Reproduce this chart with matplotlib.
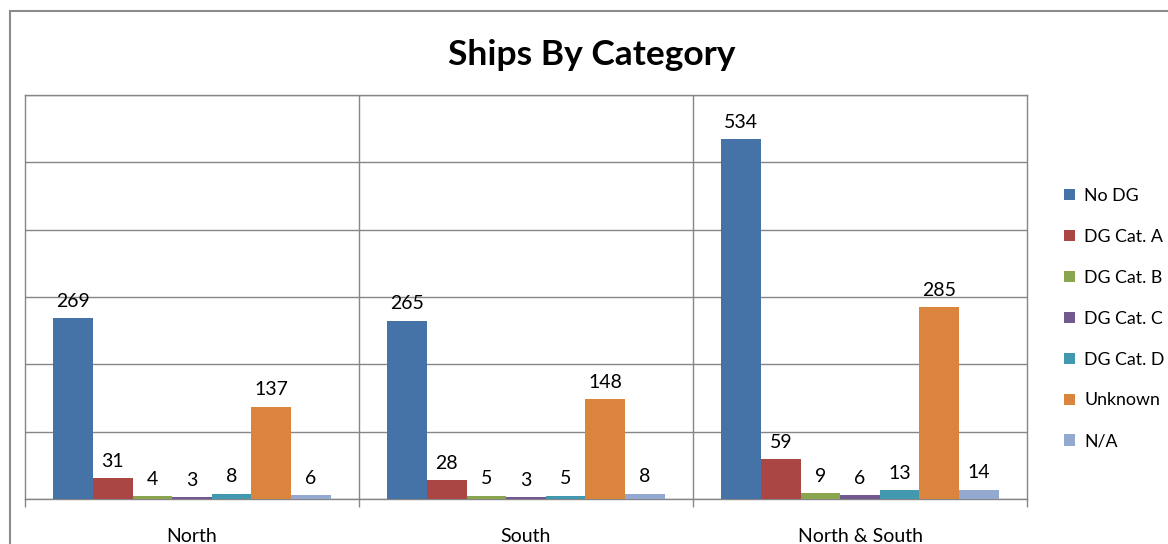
import numpy as np
import matplotlib
matplotlib.use("Agg")
import matplotlib.pyplot as plt
from matplotlib.patches import Rectangle

plt.rcParams['font.family'] = ['Lato', 'DejaVu Sans']

regions = ["North", "South", "North & South"]
series = ["No DG", "DG Cat. A", "DG Cat. B", "DG Cat. C", "DG Cat. D", "Unknown", "N/A"]
no_dg = [269, 265, 534]
cat_a = [31, 28, 59]
cat_b = [4, 5, 9]
cat_c = [3, 3, 6]
cat_d = [8, 5, 13]
unknown = [137, 148, 285]
n_a = [6, 8, 14]
colors = ["#4572A7", "#AA4643", "#89A54E", "#71588F", "#4198AF", "#DB843D", "#93A9CF"]

values = [no_dg, cat_a, cat_b, cat_c, cat_d, unknown, n_a]

fig = plt.figure(figsize=(11.68, 5.44), dpi=100)
# outer chart frame
fig.patches.append(Rectangle((10 / 1168, -0.1), 1.2, (544 - 11) / 544 + 0.1,
                             transform=fig.transFigure, fill=False,
                             edgecolor="#8c8c8c", linewidth=1.5))

ax = fig.add_axes([25 / 1168, 45 / 544, 1002 / 1168, 404 / 544])

x = np.arange(len(regions))
bw = 0.83 / len(series)
for i, (name, vals, c) in enumerate(zip(series, values, colors)):
    pos = x - 0.415 + bw * (i + 0.5)
    ax.bar(pos, vals, width=bw, color=c, label=name, zorder=3)
    for p, v in zip(pos, vals):
        ax.annotate(str(v), (p, v), xytext=(0, 6), textcoords="offset points",
                    ha="center", va="bottom", fontsize=14, color="black")

ax.set_xlim(-0.5, len(regions) - 0.5)
ax.set_ylim(0, 600)
ax.set_yticks(np.arange(0, 601, 100))
ax.yaxis.set_tick_params(length=0, labelleft=False)
ax.grid(axis="y", color="#868686", linewidth=1, zorder=0)

ax.set_xticks(x)
ax.set_xticklabels(regions, fontsize=14)
ax.tick_params(axis="x", which="major", length=0, pad=21)
ax.set_xticks(np.arange(-0.5, len(regions)), minor=True)
ax.tick_params(axis="x", which="minor", length=6, color="#868686", width=1)
for b in np.arange(0.5, len(regions) - 1):
    ax.axvline(b, color="#868686", linewidth=1, zorder=0)

for s in ax.spines.values():
    s.set_color("#868686")
    s.set_linewidth(1)

fig.text(592 / 1168, (544 - 55) / 544, "Ships By Category", ha="center", va="center",
         fontsize=25.5, fontweight="bold")

fig.legend(loc="upper left", bbox_to_anchor=(1048 / 1168, (544 - 172) / 544),
           frameon=False, fontsize=12.8, handlelength=0.6, handleheight=0.6,
           handletextpad=0.55, labelspacing=1.4)

fig.savefig("out.png", dpi=100)
